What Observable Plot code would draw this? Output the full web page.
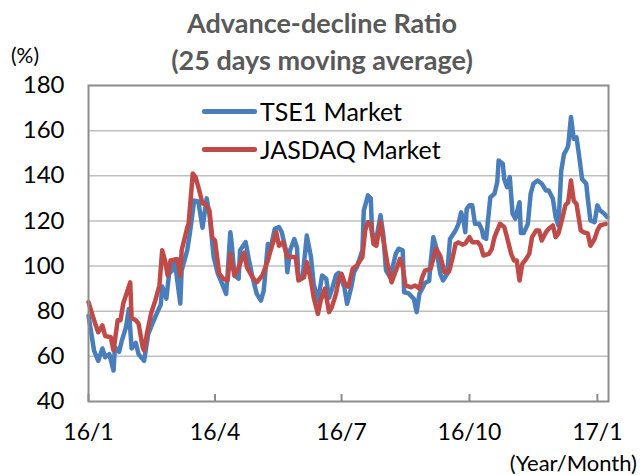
<!DOCTYPE html>
<html>
<head>
<meta charset="utf-8">
<script src="https://cdn.jsdelivr.net/npm/d3@7"></script>
<script src="https://cdn.jsdelivr.net/npm/@observablehq/plot@0.6"></script>
<style>
  html, body { margin: 0; padding: 0; background: #fff; }
  #wrap { position: relative; width: 644px; height: 475px; font-family: Lato, "Open Sans", sans-serif; }
  #wrap svg { position: absolute; left: 0; top: 0; }
  .title { position: absolute; left: 0; top: 4px; width: 644px; text-align: center; font-weight: bold; font-size: 27px; line-height: 37px; color: #595959; }
  .unit { position: absolute; font-size: 21px; color: #000; white-space: nowrap; }
  .leg { position: absolute; left: 202px; height: 30px; display: flex; align-items: center; font-size: 25px; color: #000; white-space: nowrap; }
  .leg span.sw { display: inline-block; width: 55px; height: 5px; border-radius: 2px; margin-right: 3px; }
</style>
</head>
<body>
<div id="wrap"></div>
<script>
const seriesNames = ["TSE1 Market", "JASDAQ Market"];
const seriesColors = ["#4A7EBB", "#BE4B48"];

const yTicks = [40, 60, 80, 100, 120, 140, 160, 180];
const xTickDates = ["2016-01-01", "2016-04-01", "2016-07-01", "2016-10-01", "2017-01-01"];
const xTickLabels = ["16/1", "16/4", "16/7", "16/10", "17/1"];

const tseDates = ["2016-01-01","2016-01-05","2016-01-08","2016-01-11","2016-01-13","2016-01-16","2016-01-19","2016-01-20","2016-01-23","2016-01-25","2016-01-28","2016-01-30","2016-02-01","2016-02-04","2016-02-06","2016-02-10","2016-02-13","2016-02-17","2016-02-22","2016-02-23","2016-02-26","2016-02-28","2016-03-01","2016-03-03","2016-03-07","2016-03-08","2016-03-12","2016-03-14","2016-03-17","2016-03-20","2016-03-23","2016-03-26","2016-03-28","2016-03-31","2016-04-03","2016-04-06","2016-04-09","2016-04-10","2016-04-12","2016-04-13","2016-04-15","2016-04-18","2016-04-19","2016-04-23","2016-04-25","2016-04-28","2016-05-01","2016-05-04","2016-05-06","2016-05-09","2016-05-11","2016-05-14","2016-05-17","2016-05-19","2016-05-22","2016-05-23","2016-05-25","2016-05-28","2016-05-30","2016-05-31","2016-06-03","2016-06-06","2016-06-09","2016-06-11","2016-06-14","2016-06-17","2016-06-20","2016-06-22","2016-06-24","2016-06-27","2016-06-29","2016-07-03","2016-07-05","2016-07-08","2016-07-10","2016-07-12","2016-07-16","2016-07-17","2016-07-20","2016-07-22","2016-07-23","2016-07-26","2016-07-29","2016-07-31","2016-08-02","2016-08-05","2016-08-09","2016-08-11","2016-08-14","2016-08-15","2016-08-18","2016-08-22","2016-08-24","2016-08-26","2016-08-28","2016-08-30","2016-09-02","2016-09-03","2016-09-05","2016-09-07","2016-09-10","2016-09-12","2016-09-15","2016-09-17","2016-09-21","2016-09-23","2016-09-25","2016-09-27","2016-09-28","2016-09-29","2016-10-01","2016-10-03","2016-10-05","2016-10-08","2016-10-10","2016-10-11","2016-10-13","2016-10-16","2016-10-19","2016-10-21","2016-10-22","2016-10-25","2016-10-26","2016-10-28","2016-10-30","2016-11-01","2016-11-03","2016-11-06","2016-11-07","2016-11-09","2016-11-12","2016-11-14","2016-11-16","2016-11-19","2016-11-22","2016-11-25","2016-11-27","2016-11-30","2016-12-02","2016-12-04","2016-12-06","2016-12-08","2016-12-10","2016-12-11","2016-12-13","2016-12-15","2016-12-17","2016-12-19","2016-12-21","2016-12-24","2016-12-25","2016-12-27","2016-12-30","2017-01-01","2017-01-03","2017-01-06","2017-01-08"];
const tseValues = [78,62.5,58,63.5,59.6,61,53.7,64,62,67,73,81,63.5,66,61,58,70,76,83,91,85.6,96.7,98,102.5,83.4,98,107,115,129,128.6,117,130,123,104,96.7,92.3,87.7,96,115,110,95.8,94.4,107,110.6,104,95,87.7,84.7,89,109.8,108,116.5,117.3,115,107,97.3,107,112,108,94.4,95,113.5,104,92,84.7,95.8,94.4,86,89.5,96,97,90.6,83.3,90.6,97.3,99.5,107,124.6,131.3,130,114.6,112,122.5,114,98,95,105.4,107.7,107,88.4,88,85.5,79.6,87.7,90,92.5,93.5,101,112.8,108.4,96.6,93.6,96.6,112,115.8,118.5,123.8,119,115,125.3,126.9,126.9,118.7,118.7,116,112.8,112,130.5,132,137.2,146.8,145.3,138.6,135,139.4,123.2,121,128.3,114.6,114.6,118.7,132,136.5,137.9,136.5,133.5,133.5,129.8,121.7,118,142.2,149.6,151.8,153.3,166,156.4,157,148.2,138.6,136.5,130.5,120.2,119.5,126.9,124.6,123.2,121.7];

const jasdaqDates = ["2016-01-01","2016-01-05","2016-01-08","2016-01-11","2016-01-13","2016-01-17","2016-01-19","2016-01-22","2016-01-24","2016-01-26","2016-01-29","2016-01-31","2016-02-01","2016-02-04","2016-02-06","2016-02-09","2016-02-10","2016-02-12","2016-02-15","2016-02-18","2016-02-21","2016-02-23","2016-02-25","2016-02-27","2016-02-29","2016-03-04","2016-03-05","2016-03-07","2016-03-08","2016-03-12","2016-03-13","2016-03-16","2016-03-18","2016-03-20","2016-03-23","2016-03-25","2016-03-28","2016-03-30","2016-04-01","2016-04-04","2016-04-07","2016-04-10","2016-04-12","2016-04-15","2016-04-18","2016-04-22","2016-04-24","2016-04-28","2016-05-01","2016-05-05","2016-05-09","2016-05-11","2016-05-15","2016-05-17","2016-05-20","2016-05-23","2016-05-25","2016-05-29","2016-05-31","2016-06-04","2016-06-06","2016-06-09","2016-06-11","2016-06-14","2016-06-16","2016-06-19","2016-06-22","2016-06-24","2016-06-27","2016-06-29","2016-07-01","2016-07-04","2016-07-06","2016-07-09","2016-07-12","2016-07-16","2016-07-18","2016-07-20","2016-07-22","2016-07-24","2016-07-26","2016-07-29","2016-07-31","2016-08-03","2016-08-06","2016-08-10","2016-08-12","2016-08-14","2016-08-16","2016-08-20","2016-08-23","2016-08-26","2016-08-28","2016-08-30","2016-09-03","2016-09-07","2016-09-10","2016-09-13","2016-09-16","2016-09-17","2016-09-19","2016-09-21","2016-09-23","2016-09-26","2016-09-28","2016-10-01","2016-10-03","2016-10-07","2016-10-09","2016-10-11","2016-10-15","2016-10-17","2016-10-19","2016-10-21","2016-10-23","2016-10-26","2016-10-28","2016-10-31","2016-11-02","2016-11-04","2016-11-06","2016-11-08","2016-11-10","2016-11-13","2016-11-15","2016-11-18","2016-11-20","2016-11-22","2016-11-25","2016-11-27","2016-11-30","2016-12-02","2016-12-04","2016-12-07","2016-12-09","2016-12-11","2016-12-13","2016-12-15","2016-12-17","2016-12-20","2016-12-22","2016-12-25","2016-12-27","2016-12-30","2017-01-01","2017-01-03","2017-01-07"];
const jasdaqValues = [84,76,70.7,73.7,69,68.5,62.6,76,76,83.4,89,92.8,77,76,74.5,64,62.6,70,79,84.7,91.4,107,102.5,95.8,102.5,103,103,95.8,107,117,118.7,141,139.4,135,127.7,127.7,124.6,112.8,111.3,96.6,94.4,93.6,105.4,95.8,99.4,106,99.4,95,92.8,95.8,102.5,107,115,109,110.6,104,104,104,93.6,95,101.7,93.6,86,78.8,84.7,90,79.6,81.8,87.7,94,96.6,91.4,90.8,98.8,100.2,104,115.8,119.5,118.7,109.8,109,119.5,112,101,92.8,99.5,103.2,99.5,91.4,90.6,91.4,90,95,98,98.8,107.7,104.5,97.3,97.3,99,104,109.8,110.5,109.5,110,112.8,110.6,110.6,109,104.7,105.4,107.5,112.8,115.8,118.7,117.3,112.8,105.4,102.5,102.5,93.6,101,102.5,105.4,112.8,115.8,115.8,111.3,115,116.5,118,112.8,114.5,121.7,126.9,128.3,137.9,129,127.5,115.8,115,114.5,109,112,115.8,118,118.7];

const parse = d3.utcParse("%Y-%m-%d");
const tse = tseDates.map((d, i) => ({date: parse(d), value: tseValues[i]}));
const jasdaq = jasdaqDates.map((d, i) => ({date: parse(d), value: jasdaqValues[i]}));
const xTicks = xTickDates.map(parse);
const labelOf = new Map(xTicks.map((d, i) => [+d, xTickLabels[i]]));

const chart = Plot.plot({
  width: 644,
  height: 475,
  marginTop: 85,
  marginLeft: 88,
  marginRight: 36,
  marginBottom: 74,
  style: {fontFamily: "Lato, 'Open Sans', sans-serif", background: "transparent", color: "#000"},
  x: {type: "utc", domain: [parse("2016-01-01"), parse("2017-01-09")], label: null},
  y: {domain: [40, 180], label: null},
  marks: [
    Plot.ruleY(yTicks.slice(1, -1), {stroke: "#BFBFBF", strokeWidth: 1.5}),
    Plot.lineY(tse, {x: "date", y: "value", stroke: seriesColors[0], strokeWidth: 4.5, strokeLinejoin: "round", strokeLinecap: "round"}),
    Plot.lineY(jasdaq, {x: "date", y: "value", stroke: seriesColors[1], strokeWidth: 4.5, strokeLinejoin: "round", strokeLinecap: "round"}),
    Plot.frame({stroke: "#8C8C8C", strokeWidth: 2}),
    Plot.ruleX(xTicks, {stroke: "#8C8C8C", strokeWidth: 2, insetTop: 309}),
    Plot.axisY(yTicks, {tickSize: 0, tickPadding: 24, fontSize: 24, fill: "#000", label: null}),
    Plot.axisX(xTicks, {tickSize: 0, tickPadding: 22, fontSize: 23, fill: "#000", label: null, tickFormat: d => labelOf.get(+d)})
  ]
});

const wrap = document.getElementById("wrap");
wrap.appendChild(chart);

function addDiv(cls, html, style) {
  const el = document.createElement("div");
  el.className = cls;
  el.innerHTML = html;
  Object.assign(el.style, style || {});
  wrap.appendChild(el);
  return el;
}
addDiv("title", "Advance-decline Ratio<br>(25 days moving average)");
addDiv("unit", "(%)", {left: "11px", top: "42px"});
addDiv("unit", "(Year/Month)", {right: "7px", top: "449px", fontSize: "22px"});
seriesNames.forEach((name, i) => {
  const el = addDiv("leg", "", {top: (i === 0 ? 96 : 134) + "px"});
  const sw = document.createElement("span");
  sw.className = "sw";
  sw.style.background = seriesColors[i];
  el.appendChild(sw);
  el.appendChild(document.createTextNode(name));
});
</script>
</body>
</html>
